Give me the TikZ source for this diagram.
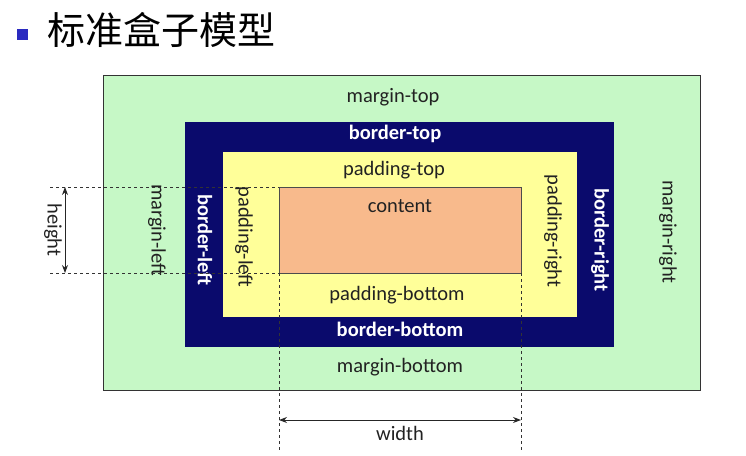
\documentclass[tikz,border=0pt]{standalone}
\usepackage{fontspec}
\setmainfont{Carlito}
\newfontfamily\cjk{Noto Sans CJK SC}
\usetikzlibrary{arrows.meta}
\definecolor{mgreen}{HTML}{C6F8C6}
\definecolor{bnavy}{HTML}{0A0A6C}
\definecolor{pyellow}{HTML}{FFFF99}
\definecolor{corange}{HTML}{F8BA8C}
\definecolor{bullet}{HTML}{2A2AC0}
\definecolor{txt}{HTML}{222222}
\tikzset{
  boxarea/.style={anchor=north west, inner sep=0pt, outer sep=0pt},
  lbl/.style={font=\fontsize{20.5}{24}\selectfont, text=txt, inner sep=0pt},
  blbl/.style={font=\fontsize{20.5}{24}\selectfont\bfseries, text=white, inner sep=0pt},
  guide/.style={dashed, draw=black!80, line width=0.7pt},
  dim/.style={{Stealth[length=8pt,width=6pt]}-{Stealth[length=8pt,width=6pt]}, line width=1pt, draw=black!85}
}
\begin{document}
\begin{tikzpicture}[x=1pt,y=-1pt]
\useasboundingbox (0,0) rectangle (746,455);
% title
\node[fill=bullet, minimum size=11pt, inner sep=0pt] (bul) at (22,34) {};
\node[anchor=west, font=\cjk\fontsize{38}{42}\selectfont, inner sep=0pt] (title) at (47,30) {标准盒子模型};
% boxes
\node[boxarea, fill=mgreen, draw=black!80, line width=0.8pt, minimum width=597pt, minimum height=315pt] (margin) at (103,75) {};
\node[boxarea, fill=bnavy, minimum width=429pt, minimum height=225pt] (border) at (185,122) {};
\node[boxarea, fill=pyellow, minimum width=354pt, minimum height=165pt] (padding) at (223,152) {};
\node[boxarea, fill=corange, draw=black!70, line width=0.5pt, minimum width=242pt, minimum height=86pt] (content) at (279,187) {};
% labels
\node[lbl] (mt) at (393,97) {margin-top};
\node[blbl] (bt) at (395,134) {border-top};
\node[lbl] (pt) at (394,170) {padding-top};
\node[lbl] (ct) at (400,206) {content};
\node[lbl] (pb) at (397,295) {padding-bottom};
\node[blbl] (bb) at (400,329) {border-bottom};
\node[lbl] (mb) at (400,367) {margin-bottom};
\node[lbl, rotate=-90] (ml) at (157,230) {margin-left};
\node[blbl, rotate=-90] (bl) at (205,240) {border-left};
\node[lbl, rotate=-90] (pl) at (244,237) {padding-left};
\node[lbl, rotate=-90] (pr) at (553,231) {padding-right};
\node[blbl, rotate=-90] (br) at (600,240) {border-right};
\node[lbl, rotate=-90] (mr) at (668,232) {margin-right};
% guides
\coordinate (g1) at (50,187);
\coordinate (g2) at (50,273);
\coordinate (g3) at (279,452);
\coordinate (g4) at (521,452);
\draw[guide] (g1) -- (content.north west);
\draw[guide] (g2) -- (content.south west);
\draw[guide] (content.south west) -- (g3);
\draw[guide] (content.south east) -- (g4);
% dimensions
\coordinate (h1) at (65,187);
\coordinate (h2) at (65,273);
\coordinate (w1) at (279,420);
\coordinate (w2) at (521,420);
\draw[dim] (h1) -- (h2);
\draw[dim] (w1) -- (w2);
\node[lbl, rotate=-90] (hl) at (53,230) {height};
\node[lbl] (wl) at (400,433) {width};
\end{tikzpicture}
\end{document}
